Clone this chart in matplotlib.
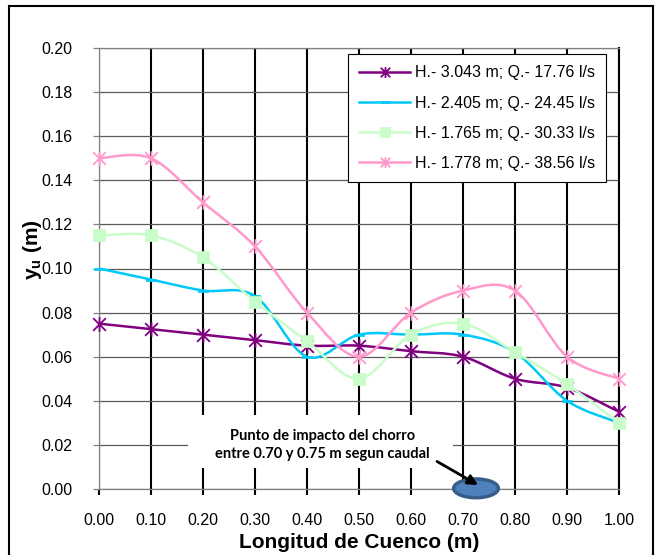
import numpy as np
import matplotlib
matplotlib.use("Agg")
import matplotlib.pyplot as plt
from matplotlib.path import Path
from matplotlib.patches import PathPatch, Ellipse, Rectangle
from matplotlib.lines import Line2D

plt.rcParams['font.family'] = ['Liberation Sans', 'DejaVu Sans']
plt.rcParams['mathtext.fontset'] = 'custom'
plt.rcParams['mathtext.rm'] = 'Liberation Sans:bold'
plt.rcParams['mathtext.it'] = 'Liberation Sans:bold'
plt.rcParams['mathtext.bf'] = 'Liberation Sans:bold'

# ---- data ----
x_vals = [0.00, 0.10, 0.20, 0.30, 0.40, 0.50, 0.60, 0.70, 0.80, 0.90, 1.00]
x_ticklabels = ["0.00", "0.10", "0.20", "0.30", "0.40", "0.50", "0.60", "0.70", "0.80", "0.90", "1.00"]
y_ticks = [0.00, 0.02, 0.04, 0.06, 0.08, 0.10, 0.12, 0.14, 0.16, 0.18, 0.20]
y_ticklabels = ["0.00", "0.02", "0.04", "0.06", "0.08", "0.10", "0.12", "0.14", "0.16", "0.18", "0.20"]

series_names = ["H.- 3.043 m; Q.- 17.76 l/s",
                "H.- 2.405 m; Q.- 24.45 l/s",
                "H.- 1.765 m; Q.- 30.33 l/s",
                "H.- 1.778 m; Q.- 38.56 l/s"]
y_h3043 = [0.075, 0.0725, 0.070, 0.0675, 0.065, 0.065, 0.0625, 0.060, 0.050, 0.046, 0.035]
y_h2405 = [0.100, 0.095, 0.090, 0.0875, 0.060, 0.070, 0.070, 0.070, 0.062, 0.040, 0.030]
y_h1765 = [0.115, 0.115, 0.105, 0.085, 0.067, 0.050, 0.070, 0.075, 0.062, 0.0475, 0.030]
y_h1778 = [0.150, 0.150, 0.130, 0.110, 0.080, 0.060, 0.080, 0.090, 0.090, 0.060, 0.050]

annot_text = "Punto de impacto del chorro\nentre 0.70 y 0.75 m segun caudal"
impact_x = 0.725

# ---- styles ----
colors = ['#800080', '#00C8F8', '#C8FCC8', '#FF99CC']

star = Path([(-1, -1), (1, 1), (-1, 1), (1, -1), (0, -1.15), (0, 1.15)],
            [Path.MOVETO, Path.LINETO, Path.MOVETO, Path.LINETO, Path.MOVETO, Path.LINETO])
dash = Path([(-1, -0.3), (1, -0.3), (1, 0.3), (-1, 0.3), (-1, -0.3)],
            [Path.MOVETO, Path.LINETO, Path.LINETO, Path.LINETO, Path.CLOSEPOLY])
marker_styles = [
    dict(marker=star, markersize=10.5, markeredgewidth=1.3, markerfacecolor='none'),
    dict(marker=dash, markersize=7, markeredgewidth=0.5),
    dict(marker='s', markersize=9, markeredgewidth=0.5),
    dict(marker=star, markersize=10.5, markeredgewidth=1.3, markerfacecolor='none'),
]


def smooth_path(x, y):
    pts = np.column_stack([x, y]).astype(float)
    n = len(pts)
    verts = [pts[0]]
    codes = [Path.MOVETO]
    for i in range(n - 1):
        p0 = pts[i - 1] if i > 0 else pts[i]
        p1 = pts[i]
        p2 = pts[i + 1]
        p3 = pts[i + 2] if i + 2 < n else pts[i + 1]
        c1 = p1 + (p2 - p0) / 6.0
        c2 = p2 - (p3 - p1) / 6.0
        verts += [c1, c2, p2]
        codes += [Path.CURVE4] * 3
    return Path(verts, codes)


fig = plt.figure(figsize=(6.59, 5.55), dpi=100)
ax = fig.add_axes([99 / 659, 1 - 489 / 555, 520 / 659, 441 / 555])

# outer frame
fig.patches.append(Rectangle((8.5 / 659, -0.02), (652.5 - 8.5) / 659, 1.02 - 5.5 / 555,
                             transform=fig.transFigure, fill=False, ec='black', lw=1.5))

ax.set_xlim(0, 1)
ax.set_ylim(0, 0.20)
ax.set_xticks(x_vals)
ax.set_xticklabels(x_ticklabels)
ax.set_yticks(y_ticks)
ax.set_yticklabels(y_ticklabels)

# grid
ax.set_axisbelow(True)
ax.xaxis.grid(True, color='black', lw=1.5, zorder=1)
ax.yaxis.grid(True, color='#5a5a5a', lw=0.9, zorder=1)
ax.tick_params(axis='x', length=4, width=1.5, color='black', pad=13, labelsize=11.5)
ax.tick_params(axis='y', length=4, width=0.9, color='#808080', pad=15, labelsize=11.5)
for lab in ax.get_xticklabels() + ax.get_yticklabels():
    lab.set_color('black')
for s in ['left', 'bottom', 'top']:
    ax.spines[s].set_color('#808080')
    ax.spines[s].set_linewidth(0.9)
ax.spines['right'].set_color('black')
ax.spines['right'].set_linewidth(1.5)
gl0 = ax.xaxis.get_gridlines()[0]
gl0.set_color('#808080')
gl0.set_linewidth(0.9)

all_y = [y_h3043, y_h2405, y_h1765, y_h1778]
handles = []
for k, (yy, col, ms, name) in enumerate(zip(all_y, colors, marker_styles, series_names)):
    z = 3 + k
    ax.add_patch(PathPatch(smooth_path(x_vals, yy), fill=False, ec=col, lw=1.8, zorder=z))
    ax.plot(x_vals, yy, linestyle='none', color=col, markeredgecolor=col,
            zorder=z + 0.5, clip_on=False, **{kk: v for kk, v in ms.items()})
    h = Line2D([], [], color=col, lw=1.8, markeredgecolor=col,
               **{kk: (v * 0.75 if kk == 'markersize' else v) for kk, v in ms.items()})
    handles.append(h)

leg = ax.legend(handles, series_names, loc='upper left', bbox_to_anchor=(0.479, 0.986),
                borderaxespad=0, fontsize=11.5, frameon=True, fancybox=False,
                edgecolor='black', framealpha=1, handlelength=3.2, handletextpad=0.3,
                labelspacing=0.95, borderpad=0.7, numpoints=1)
leg.get_frame().set_linewidth(0.8)
leg.set_zorder(10)

ax.set_xlabel('Longitud de Cuenco (m)', fontsize=15, fontweight='bold')
ax.xaxis.set_label_coords(0.5, -0.099)
ax.set_ylabel(r'$\mathrm{y_u}$ (m)', fontsize=15, fontweight='bold')
ax.yaxis.set_label_coords(-0.106, 0.543)

# annotation
ax.add_patch(Rectangle((0.171, 0.0476), 0.51, 0.12, transform=ax.transAxes,
                       fc='white', ec='none', zorder=2))
ax.text(0.429, 0.0998, annot_text, transform=ax.transAxes, ha='center', va='center',
        fontsize=10.5, fontweight='bold', family=['Lato', 'DejaVu Sans'],
        linespacing=1.45, zorder=8)
ax.add_patch(Ellipse((impact_x, 0.0003), 0.086, 0.0085, fc='#4F81BD', ec='#385D8A',
                     lw=2.5, clip_on=False, zorder=9))
ax.annotate('', xy=(0.729, 0.0018), xytext=(0.65, 0.0125),
            arrowprops=dict(arrowstyle='-|>,head_length=0.6,head_width=0.3',
                            color='black', lw=2, shrinkA=0, shrinkB=0),
            zorder=10, annotation_clip=False)

fig.savefig('out.png', dpi=100)
